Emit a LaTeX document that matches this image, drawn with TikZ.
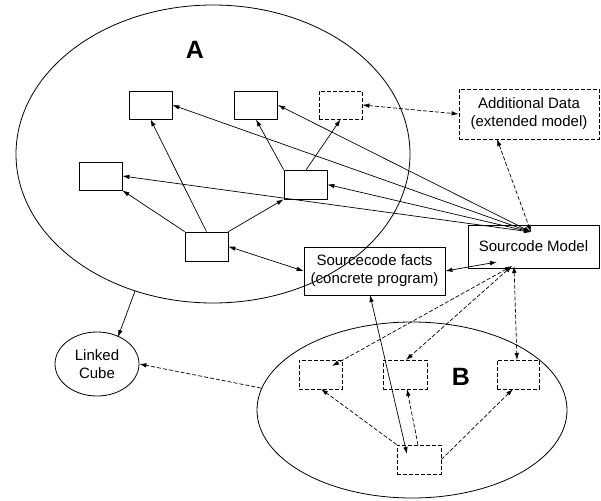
\documentclass[tikz,border=0pt]{standalone}
\usepackage{fontspec}
\setmainfont{Liberation Sans}
\usetikzlibrary{arrows.meta,shapes.geometric}
\begin{document}
\begin{tikzpicture}[x=1pt,y=-1pt,
  every node/.style={font=\fontsize{15}{18}\selectfont},
  sbox/.style={draw,line width=0.8pt,minimum width=43pt,minimum height=28pt,inner sep=0pt},
  dbox/.style={sbox,dash pattern=on 4pt off 2pt},
  conn/.style={line width=0.7pt,-{Latex[length=7pt,width=4.5pt]}},
  dconn/.style={conn,dash pattern=on 4pt off 2pt},
  bconn/.style={line width=0.7pt,{Latex[length=7pt,width=4.5pt]}-{Latex[length=7pt,width=4.5pt]}},
  dbconn/.style={bconn,dash pattern=on 4pt off 2pt},
  big/.style={font=\fontsize{25}{30}\selectfont\bfseries}]
\useasboundingbox (0,0) rectangle (601,500);
% ellipses
\draw[line width=0.8pt] (213,154) ellipse [x radius=197, y radius=149];
\draw[line width=0.8pt] (412,410) ellipse [x radius=155, y radius=88];
\node[big] (la) at (195,50) {A};
\node[big] (lb) at (461,377) {B};
% A boxes
\node[sbox] (b1) at (150.5,105) {};
\node[sbox] (b2) at (256,105) {};
\node[dbox] (b3) at (340.5,105) {};
\node[sbox] (b4) at (100.5,176) {};
\node[sbox,minimum height=29pt] (b5) at (305.5,184.5) {};
\node[sbox,minimum height=29pt] (b6) at (206.5,246.5) {};
% big boxes
\node[draw,line width=0.8pt,dash pattern=on 4pt off 2pt,minimum width=140pt,minimum height=50pt,inner sep=0pt,align=center] (ad) at (529,114) {Additional Data\\(extended model)};
\node[draw,line width=0.8pt,minimum width=131pt,minimum height=43pt,inner sep=0pt] (sm) at (533.5,246.5) {Sourcode Model};
\node[draw,line width=0.8pt,minimum width=141pt,minimum height=48pt,inner sep=0pt,align=center] (sf) at (374.5,271) {Sourcecode facts\\(concrete program)};
\node[draw,ellipse,line width=0.8pt,minimum width=84pt,minimum height=64pt,inner sep=0pt,align=center] (lc) at (97,364) {Linked\\Cube};
% B boxes
\node[dbox,minimum height=29pt] (c1) at (320.5,374.5) {};
\node[dbox,minimum height=29pt,minimum width=44pt] (c2) at (405,374.5) {};
\node[dbox,minimum height=29pt,minimum width=42pt] (c3) at (518,374.5) {};
\node[dbox,minimum height=29pt,minimum width=44pt] (c4) at (419,459.5) {};
% coordinates
\coordinate (smT) at (531,232);
\coordinate (smB) at (512,266);
\coordinate (smB2) at (514,266);
\coordinate (smL) at (497,262);
\coordinate (adB) at (497,139);
\coordinate (sfB) at (370,295);
\coordinate (c4T) at (407,454);
\coordinate (c4T2) at (418,445);
\coordinate (c2B) at (407,389);
\coordinate (c1B) at (321,389);
\coordinate (c3B) at (513,389);
\coordinate (c1T) at (332,366);
\coordinate (c2T) at (406,360);
\coordinate (c3T) at (517,360);
\coordinate (eB) at (261,388);
\coordinate (eA) at (135,291);
\coordinate (lcT) at (118,337);
\coordinate (b5T) at (306,170);
% connectors
\draw[bconn] (b1.east) -- (smT);
\draw[bconn] (b2.east) -- (smT);
\draw[bconn] (b4.east) -- (smT);
\draw[bconn] (b5.east) -- (smT);
\draw[dbconn] (b3.east) -- (ad.west);
\draw[dbconn] (adB) -- (smT);
\draw[bconn] (b6.east) -- (sf.west);
\draw[bconn] (sf.east) -- (smL);
\draw[bconn] (sfB) -- (c4T);
\draw[dconn] (c4T2) -- (c2B);
\draw[dconn] (c4.north west) -- (c1B);
\draw[dconn] (c4.east) -- (c3B);
\draw[dbconn] (smB) -- (c1T);
\draw[dbconn] (smB) -- (c2T);
\draw[dbconn] (smB2) -- (c3T);
\draw[dconn] (eB) -- (lc.east);
\draw[conn] (eA) -- (lcT);
\draw[conn] (b6.north) -- (b1.south);
\draw[conn] (b6.north west) -- (b4.south east);
\draw[conn] (b6.north east) -- (b5.south west);
\draw[conn] (b5.north west) -- (b2.south);
\draw[conn] (b5T) -- (b3.south);
\end{tikzpicture}
\end{document}
